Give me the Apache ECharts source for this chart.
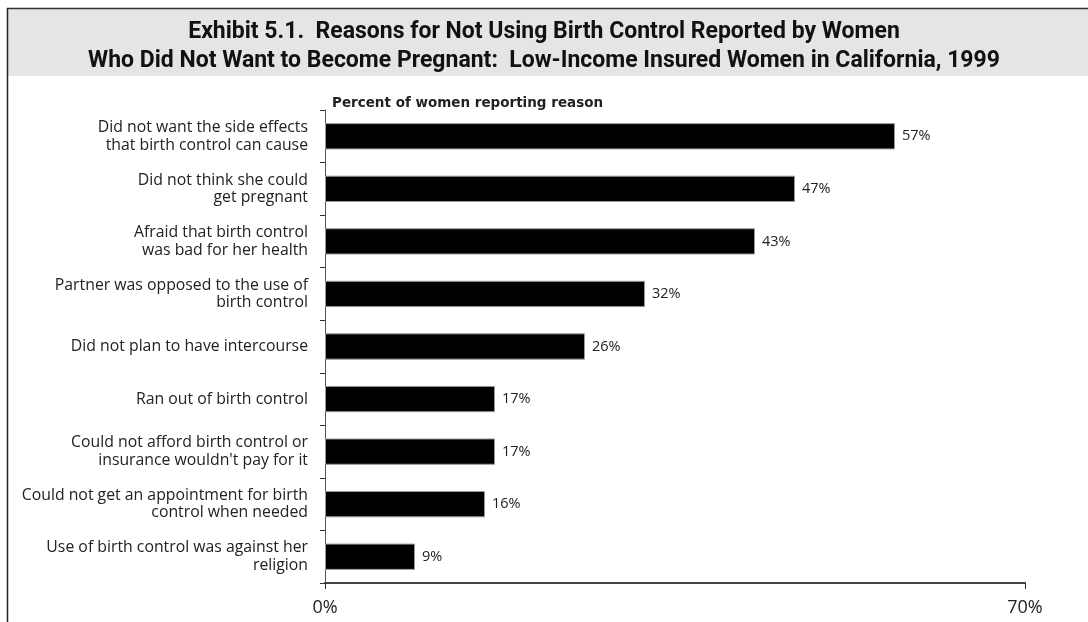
<!DOCTYPE html>
<html>
<head>
<meta charset="utf-8">
<script src="https://cdn.jsdelivr.net/npm/echarts@6/dist/echarts.min.js"></script>
<style>
  html, body { margin: 0; padding: 0; background: #fff; }
  #chart { width: 1088px; height: 622px; }
</style>
</head>
<body>
<div id="chart"></div>
<script>
// reasons, top to bottom
const categories = [
  "Did not want the side effects\nthat birth control can cause",
  "Did not think she could\nget pregnant",
  "Afraid that birth control\nwas bad for her health",
  "Partner was opposed to the use of\nbirth control",
  "Did not plan to have intercourse",
  "Ran out of birth control",
  "Could not afford birth control or\ninsurance wouldn't pay for it",
  "Could not get an appointment for birth\ncontrol when needed",
  "Use of birth control was against her\nreligion"
];
const percents = [57, 47, 43, 32, 26, 17, 17, 16, 9];
const axisTicks = [0, 70];

const titleLines = [
  "Exhibit 5.1.  Reasons for Not Using Birth Control Reported by Women",
  "Who Did Not Want to Become Pregnant:  Low-Income Insured Women in California, 1999"
];

const chart = echarts.init(document.getElementById("chart"));

const option = {
  animation: false,
  backgroundColor: "#fff",
  graphic: [
    { type: "rect", shape: { x: 8, y: 9, width: 1080, height: 67 }, style: { fill: "#e5e5e5" }, z: -1 },
    { type: "line", shape: { x1: 7, y1: 8.5, x2: 1088, y2: 8.5 }, style: { stroke: "#333", lineWidth: 1.5 } },
    { type: "line", shape: { x1: 7.5, y1: 8, x2: 7.5, y2: 622 }, style: { stroke: "#222", lineWidth: 1.5 } },
    {
      type: "text", left: 332, top: 96,
      style: { text: "Percent of women reporting reason", font: "bold 13.5px 'DejaVu Sans'", fill: "#222" }
    }
  ],
  title: {
    text: titleLines.join("\n"),
    left: "center",
    top: 13,
    textStyle: {
      fontFamily: "Roboto, sans-serif",
      fontWeight: "bold",
      fontSize: 23,
      lineHeight: 29,
      color: "#111"
    }
  },
  grid: { left: 325, right: 63, top: 110, bottom: 39 },
  xAxis: {
    type: "value",
    min: axisTicks[0],
    max: axisTicks[1],
    interval: axisTicks[1] - axisTicks[0],
    splitLine: { show: false },
    axisLine: { show: true, lineStyle: { color: "#444", width: 2 } },
    axisTick: { show: true, length: 6, lineStyle: { color: "#222", width: 1 } },
    axisLabel: {
      formatter: "{value}%",
      fontFamily: "'Open Sans'",
      fontSize: 18,
      color: "#222",
      margin: 16
    }
  },
  yAxis: {
    type: "category",
    inverse: true,
    data: categories,
    axisLine: { show: true, lineStyle: { color: "#555", width: 1 } },
    axisTick: { show: true, length: 5, lineStyle: { color: "#333" } },
    axisLabel: {
      fontFamily: "'Open Sans'",
      fontSize: 15.8,
      lineHeight: 17.5,
      color: "#222",
      margin: 17,
      align: "right"
    }
  },
  series: [
    {
      type: "bar",
      data: percents,
      barWidth: "50%",
      itemStyle: { color: "#000", borderColor: "#999", borderWidth: 1 },
      label: {
        show: true,
        position: "right",
        distance: 7,
        formatter: "{c}%",
        fontFamily: "'Open Sans'",
        fontSize: 14.5,
        color: "#222"
      }
    }
  ]
};

chart.setOption(option);
</script>
</body>
</html>
